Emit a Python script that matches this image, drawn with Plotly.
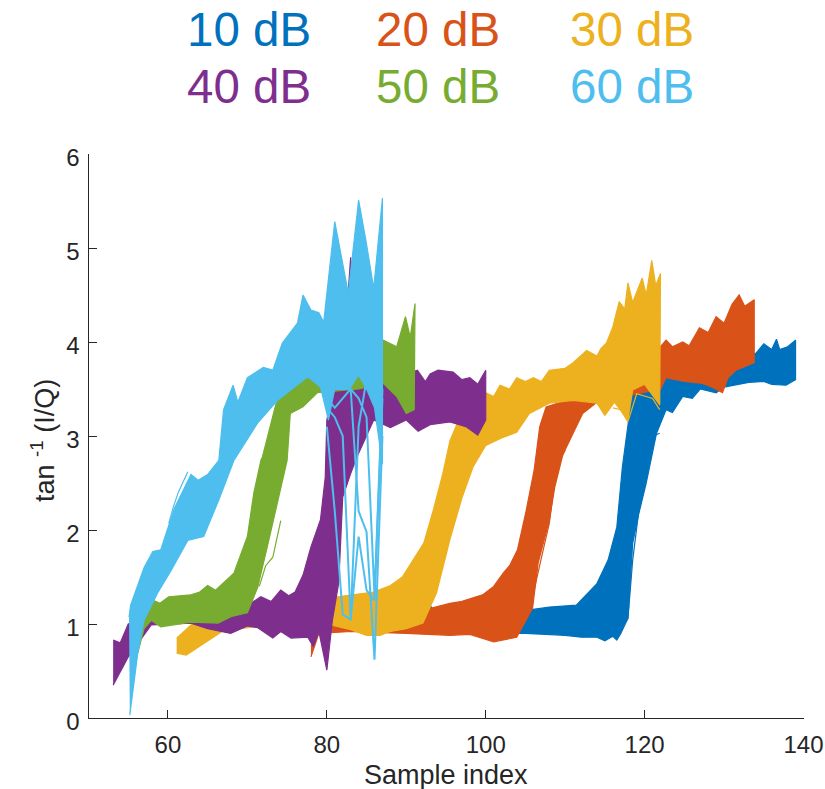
import plotly.graph_objects as go

labels = ["10 dB", "20 dB", "30 dB", "40 dB", "50 dB", "60 dB"]
colors = ["#0072BD", "#D95319", "#EDB120", "#7E2F8E", "#77AC30", "#4DBEEE"]
x_ticks = [60, 80, 100, 120, 140]
y_ticks = [0, 1, 2, 3, 4, 5, 6]
x_title = "Sample index"
y_title = "tan <sup>-1</sup> (I/Q)"

x10_up = [93, 93.6, 95, 100, 105.5, 108, 111.4, 112.5, 114, 115.4, 116.5, 117.2, 117.9, 118.5, 122, 134, 135, 136, 136.6, 137, 138, 139]
y10_up = [1.2, 1.12, 1.05, 1.08, 1.15, 1.18, 1.2, 1.3, 1.43, 1.68, 2.03, 2.67, 3.1, 3.49, 3.7, 3.88, 3.98, 3.92, 4.03, 3.92, 3.95, 4.02]
x10_lo = [93, 95, 100.9, 105, 110, 112, 114, 115, 116, 116.5, 117, 117.9, 118.5, 119.2, 120.2, 121.5, 122.7, 123.5, 124.8, 126, 127, 129, 130, 133.1, 135, 136, 137.8, 139]
y10_lo = [1.0, 0.95, 0.9, 0.9, 0.88, 0.86, 0.86, 0.82, 0.87, 0.83, 0.9, 1.06, 1.86, 2.15, 2.5, 3.03, 3.28, 3.25, 3.42, 3.4, 3.5, 3.46, 3.52, 3.57, 3.58, 3.55, 3.54, 3.6]

x20_up = [78, 80, 83, 90, 95.5, 97, 99.6, 101, 102.2, 103, 104, 105.1, 106.1, 106.8, 107.6, 110.2, 122, 122.7, 123.5, 124.8, 125.6, 126.9, 128, 129, 130, 131, 131.9, 132.6, 133.8]
y20_up = [0.8, 1.0, 1.05, 1.1, 1.22, 1.24, 1.31, 1.4, 1.54, 1.62, 1.79, 2.21, 2.64, 3.1, 3.31, 3.38, 3.95, 4.02, 3.95, 4.0, 3.96, 4.15, 4.1, 4.27, 4.2, 4.4, 4.5, 4.38, 4.45]
x20_lo = [78, 79, 83, 90, 95.5, 98, 101, 102, 103.9, 105.9, 106.6, 108, 108.7, 109.7, 111, 112.2, 114, 122, 122.7, 125, 127.3, 128.5, 129.8, 130.5, 131.5, 133.8]
y20_lo = [0.65, 0.9, 0.92, 0.9, 0.88, 0.89, 0.81, 0.83, 0.86, 1.17, 1.65, 2.1, 2.46, 2.8, 3.03, 3.24, 3.36, 3.5, 3.62, 3.58, 3.56, 3.52, 3.46, 3.62, 3.7, 3.78]

x30_up = [61.1, 62.9, 64, 66.4, 72, 81.3, 85.9, 88, 89.5, 90.9, 92.2, 93.4, 94.6, 95.5, 96.5, 98, 100, 101, 101.8, 103, 103.9, 105, 106, 107, 108, 110, 111, 112.7, 114, 114.5, 115.2, 116, 116.8, 117.5, 117.9, 118.5, 119, 119.7, 120.2, 120.9, 121.4, 122]
y30_up = [0.85, 0.99, 1.03, 0.99, 1.1, 1.29, 1.34, 1.41, 1.5, 1.68, 1.86, 2.21, 2.6, 2.95, 3.15, 3.25, 3.46, 3.42, 3.54, 3.5, 3.62, 3.58, 3.62, 3.58, 3.7, 3.72, 3.78, 3.91, 3.85, 3.93, 3.99, 4.16, 4.43, 4.35, 4.63, 4.42, 4.53, 4.68, 4.5, 4.87, 4.6, 4.73]
x30_lo = [61.1, 62.3, 67, 72, 80, 83, 85, 86.7, 88, 90, 92.1, 93.8, 95.5, 97, 98.4, 100, 102, 103.9, 105.5, 108, 111, 114, 115, 116.2, 117.9, 118.5, 120, 121.9]
y30_lo = [0.69, 0.67, 0.93, 0.98, 1.0, 0.94, 0.88, 0.88, 0.92, 0.95, 1.01, 1.33, 1.9, 2.34, 2.67, 2.9, 2.98, 3.04, 3.24, 3.35, 3.38, 3.35, 3.22, 3.36, 3.17, 3.49, 3.55, 3.33]

x40_up = [53.1, 54, 55, 58, 62, 66, 70.4, 71.7, 73, 74.2, 75.2, 76, 77, 78, 79.2, 79.8, 80, 80.8, 82, 83, 83.5, 85, 87, 88, 89, 90, 91.4, 92.4, 93, 94, 95.9, 97, 98, 99, 100]
y40_up = [0.83, 0.8, 1.0, 1.08, 1.08, 1.12, 1.22, 1.29, 1.24, 1.36, 1.3, 1.34, 1.52, 1.82, 2.11, 2.56, 3.17, 3.52, 3.7, 4.9, 4.0, 3.9, 3.7, 3.68, 3.6, 3.66, 3.7, 3.58, 3.66, 3.7, 3.68, 3.6, 3.62, 3.55, 3.7]
x40_lo = [53.1, 55, 57.9, 62.9, 65, 67.9, 70, 71.3, 73.2, 74.2, 75.5, 77.6, 78.3, 79, 80, 80.7, 81.5, 82, 83, 83.8, 85.9, 88, 90, 91.5, 93, 95.5, 97.5, 99, 100]
y40_lo = [0.35, 0.65, 0.99, 1.01, 0.95, 0.9, 0.98, 0.96, 0.85, 0.92, 0.85, 0.86, 0.76, 0.92, 0.51, 1.04, 1.44, 2.35, 2.6, 2.78, 3.17, 3.09, 3.17, 3.05, 3.12, 3.15, 3.1, 3.01, 3.17]

x50_up = [56.6, 57.9, 59, 60.1, 62.9, 64, 65, 66, 68.3, 70, 70.8, 71.7, 71.9, 73.8, 75.4, 77, 78.3, 80, 84, 87.1, 88.8, 89.9, 90.5, 91.1]
y50_up = [0.97, 1.26, 1.22, 1.29, 1.31, 1.34, 1.41, 1.36, 1.54, 1.93, 2.39, 2.74, 2.78, 3.41, 3.6, 3.73, 3.63, 3.55, 3.95, 4.02, 3.95, 4.27, 4.05, 4.41]
x50_lo = [56.2, 57, 57.9, 59.1, 62.9, 66.3, 68, 70, 71.3, 72.5, 73.8, 75, 75.4, 77, 78.8, 84, 87.1, 88.8, 90, 91]
y50_lo = [0.69, 0.95, 1.04, 0.97, 1.02, 1.01, 1.08, 1.12, 1.39, 1.82, 2.29, 2.74, 3.24, 3.31, 3.46, 3.5, 3.56, 3.42, 3.24, 3.28]

x60_up = [55.1, 55.3, 57, 58.1, 59.1, 60.8, 62.9, 63.8, 65, 66.4, 67, 68.2, 68.8, 70, 72, 73.2, 74.4, 76.3, 77, 78, 79, 79.6, 81, 82.7, 84, 84.9, 85.9, 87]
y60_up = [1.07, 1.2, 1.6, 1.77, 1.79, 2.23, 2.59, 2.53, 2.59, 2.74, 3.28, 3.54, 3.36, 3.62, 3.73, 3.7, 3.99, 4.2, 4.5, 4.34, 4.31, 4.21, 5.28, 4.52, 5.51, 5.09, 4.57, 5.53]
x60_lo = [55.2, 56.2, 57, 58.7, 60.4, 62.5, 64.5, 66.4, 68.3, 71.3, 73.8, 77.6, 79.2, 80.2, 81, 83, 84, 85, 86, 87]
y60_lo = [0.03, 0.69, 1.04, 1.33, 1.57, 1.89, 1.93, 2.32, 2.74, 3.14, 3.38, 3.63, 3.52, 3.17, 3.5, 3.52, 3.65, 3.5, 3.3, 2.7]

x60_dips = [80, 81, 82, 83, 84, 85, 86, 87]
y60_dip_a = [3.1, 2.2, 1.1, 1.05, 3.1, 3.6, 3.6, 3.6]
y60_dip_b = [3.3, 3.2, 3.0, 1.05, 1.93, 1.36, 1.25, 3.4]
y60_dip_c = [3.4, 3.3, 3.4, 3.5, 2.2, 1.98, 0.62, 3.0]
y60_dip_d = [3.5, 3.5, 3.5, 3.5, 3.4, 3.2, 1.3, 3.5]

# A few stray traces that stand clear of each band's edge
x10_stray = [117, 117.9, 118.5, 119.6, 120.8, 121.9]
y10_stray = [0.95, 1.06, 1.68, 2.43, 2.99, 3.03]
x20_stray = [105, 105.9, 107, 108, 108.9, 110]
y20_stray = [1.1, 1.29, 1.7, 2.07, 2.67, 2.85]
x30_stray = [116, 117, 117.9, 118.5, 119, 121, 121.9]
y30_stray = [3.3, 3.28, 3.15, 3.3, 3.45, 3.4, 3.28]
x50_stray = [71.5, 72.3, 73.2, 74.2]
y50_stray = [1.4, 1.62, 1.71, 2.1]
x60_stray = [60.1, 60.7, 61.3, 62.5]
y60_stray = [2.07, 2.25, 2.4, 2.62]

bands = [
    (x10_up, y10_up, x10_lo, y10_lo),
    (x20_up, y20_up, x20_lo, y20_lo),
    (x30_up, y30_up, x30_lo, y30_lo),
    (x40_up, y40_up, x40_lo, y40_lo),
    (x50_up, y50_up, x50_lo, y50_lo),
    (x60_up, y60_up, x60_lo, y60_lo),
]
strays = [
    (x10_stray, y10_stray, colors[0]),
    (x20_stray, y20_stray, colors[1]),
    (x30_stray, y30_stray, colors[2]),
    (x50_stray, y50_stray, colors[4]),
    (x60_stray, y60_stray, colors[5]),
]

fig = go.Figure()
for name, color, (xu, yu, xl, yl) in zip(labels, colors, bands):
    fig.add_trace(go.Scatter(
        x=list(xu) + list(xl)[::-1], y=list(yu) + list(yl)[::-1],
        mode="lines", fill="toself", fillcolor=color,
        line=dict(color=color, width=1.2), name=name, showlegend=False, hoverinfo="skip",
    ))
for xs, ys, color in strays:
    fig.add_trace(go.Scatter(x=xs, y=ys, mode="lines", line=dict(color=color, width=1.2),
                             showlegend=False, hoverinfo="skip"))
for dip in (y60_dip_a, y60_dip_b, y60_dip_c, y60_dip_d):
    fig.add_trace(go.Scatter(x=x60_dips, y=dip, mode="lines",
                             line=dict(color=colors[5], width=2),
                             showlegend=False, hoverinfo="skip"))

W, H = 825, 789
ink = "#262626"
legend_x = [249, 438, 632]
legend_y = [30, 87]
for i, (name, color) in enumerate(zip(labels, colors)):
    fig.add_annotation(text=name, xref="paper", yref="paper", showarrow=False,
                       x=legend_x[i % 3] / W, y=1 - legend_y[i // 3] / H,
                       xanchor="center", yanchor="middle",
                       font=dict(size=47.5, color=color, family="Liberation Sans"))
fig.add_annotation(text=x_title, xref="paper", yref="paper", showarrow=False,
                   x=446 / W, y=1 - 775 / H, xanchor="center", yanchor="middle",
                   font=dict(size=27, color=ink, family="Liberation Sans"))
fig.add_annotation(text=y_title, xref="paper", yref="paper", showarrow=False, textangle=-90,
                   x=43 / W, y=1 - 441 / H, xanchor="center", yanchor="middle",
                   font=dict(size=27, color=ink, family="Liberation Sans"))

fig.update_layout(
    width=W, height=H, margin=dict(l=0, r=0, t=0, b=0), autosize=False,
    paper_bgcolor="white", plot_bgcolor="white",
    font=dict(family="Liberation Sans", color=ink, size=24),
    xaxis=dict(domain=[88.5 / W, 803.5 / W], range=[50, 140], tickvals=x_ticks,
               ticks="inside", ticklen=8, tickcolor=ink, showline=True, linecolor=ink,
               linewidth=1.2, tickwidth=1.2, showgrid=False, zeroline=False,
               ticklabeloverflow="allow", ticklabelstandoff=5, automargin=False),
    yaxis=dict(domain=[1 - 718 / H, 1 - 154 / H], range=[0, 6], tickvals=y_ticks,
               ticks="inside", ticklen=8, tickcolor=ink, showline=True, linecolor=ink,
               linewidth=1.2, tickwidth=1.2, showgrid=False, zeroline=False,
               ticklabelshift=4, ticklabelstandoff=3, automargin=False),
)
fig.write_html("out.html", config={"displayModeBar": False},
               post_script="document.body.style.margin='0';")
